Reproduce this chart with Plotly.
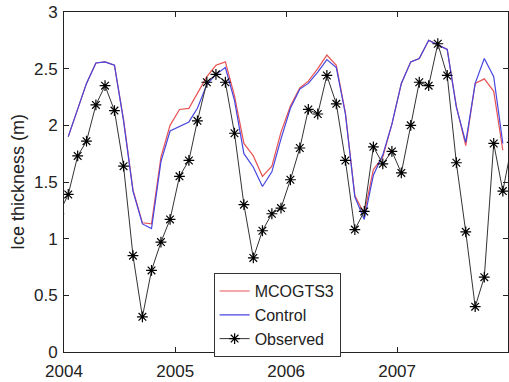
import pandas as pd
import plotly.graph_objects as go

# Monthly sea-ice thickness, mid-month samples
model_months = pd.date_range("2004-01-01", periods=48, freq="MS") + pd.Timedelta(days=14)
obs_months = pd.date_range("2003-12-01", periods=50, freq="MS") + pd.Timedelta(days=14)

mcogts3 = [
    1.90, 2.14, 2.37, 2.55, 2.56, 2.53, 2.05, 1.43, 1.14, 1.13, 1.72, 2.00,
    2.14, 2.15, 2.28, 2.43, 2.53, 2.56, 2.26, 1.84, 1.73, 1.55, 1.64, 1.94,
    2.17, 2.33, 2.39, 2.50, 2.62, 2.53, 2.11, 1.38, 1.22, 1.61, 1.72, 2.01,
    2.37, 2.56, 2.59, 2.75, 2.71, 2.67, 2.17, 1.82, 2.37, 2.41, 2.30, 1.78,
]
control = [
    1.90, 2.14, 2.37, 2.55, 2.56, 2.53, 2.04, 1.42, 1.13, 1.09, 1.68, 1.95,
    1.99, 2.03, 2.15, 2.36, 2.45, 2.51, 2.22, 1.75, 1.63, 1.46, 1.59, 1.88,
    2.15, 2.32, 2.37, 2.47, 2.58, 2.51, 2.10, 1.37, 1.17, 1.56, 1.74, 2.01,
    2.37, 2.56, 2.59, 2.75, 2.71, 2.67, 2.16, 1.85, 2.37, 2.59, 2.43, 1.84,
]
observed = [
    1.22,
    1.39, 1.73, 1.86, 2.18, 2.35, 2.13, 1.64, 0.85, 0.31, 0.72, 0.97, 1.17,
    1.55, 1.69, 2.04, 2.38, 2.45, 2.38, 1.93, 1.30, 0.83, 1.07, 1.22, 1.27,
    1.52, 1.80, 2.14, 2.10, 2.44, 2.19, 1.69, 1.08, 1.24, 1.81, 1.66, 1.77,
    1.58, 2.00, 2.38, 2.35, 2.72, 2.44, 1.67, 1.06, 0.40, 0.66, 1.84, 1.42,
    1.85,
]

year_ticks = ["2004-01-01", "2005-01-01", "2006-01-01", "2007-01-01"]
year_labels = ["2004", "2005", "2006", "2007"]
y_ticks = [0, 0.5, 1, 1.5, 2, 2.5, 3]
y_labels = ["0", "0.5", "1", "1.5", "2", "2.5", "3"]

FONT = "Liberation Sans, Arial, sans-serif"

fig = go.Figure()
fig.add_trace(go.Scatter(
    x=model_months, y=mcogts3, name="MCOGTS3", mode="lines",
    line=dict(color="#e85454", width=1.2),
))
fig.add_trace(go.Scatter(
    x=model_months, y=control, name="Control", mode="lines",
    line=dict(color="#4646e0", width=1.2),
))
fig.add_trace(go.Scatter(
    x=obs_months, y=observed, name="Observed", mode="lines+markers",
    line=dict(color="#333333", width=1),
    marker=dict(symbol="asterisk-open", size=9, color="#000000",
                line=dict(color="#000000", width=1.2)),
))

axis_common = dict(
    showline=True, linecolor="#222222", linewidth=1, mirror="ticks",
    ticks="inside", ticklen=5, tickcolor="#222222",
    showgrid=False, zeroline=False,
    tickfont=dict(family=FONT, size=17, color="#222222"),
)

fig.update_layout(
    width=509, height=382,
    margin=dict(l=64, r=1, t=12, b=30),
    paper_bgcolor="white", plot_bgcolor="white",
    font=dict(family=FONT, color="#222222"),
    showlegend=True,
    legend=dict(
        x=0.337, y=0.232, xanchor="left", yanchor="top",
        bgcolor="white", bordercolor="#333333", borderwidth=1,
        font=dict(family=FONT, size=16, color="#222222"),
        tracegroupgap=0, itemwidth=30,
    ),
    xaxis=dict(
        type="date", range=["2004-01-01", "2008-01-01"],
        tickvals=year_ticks, ticktext=year_labels,
        ticklabelstandoff=4, **axis_common,
    ),
    yaxis=dict(
        range=[0, 3], tickvals=y_ticks, ticktext=y_labels,
        ticklabelstandoff=2,
        title=dict(text="Ice thickness (m)", standoff=4,
                   font=dict(family=FONT, size=18, color="#222222")),
        **axis_common,
    ),
)

fig.write_html("out.html")
